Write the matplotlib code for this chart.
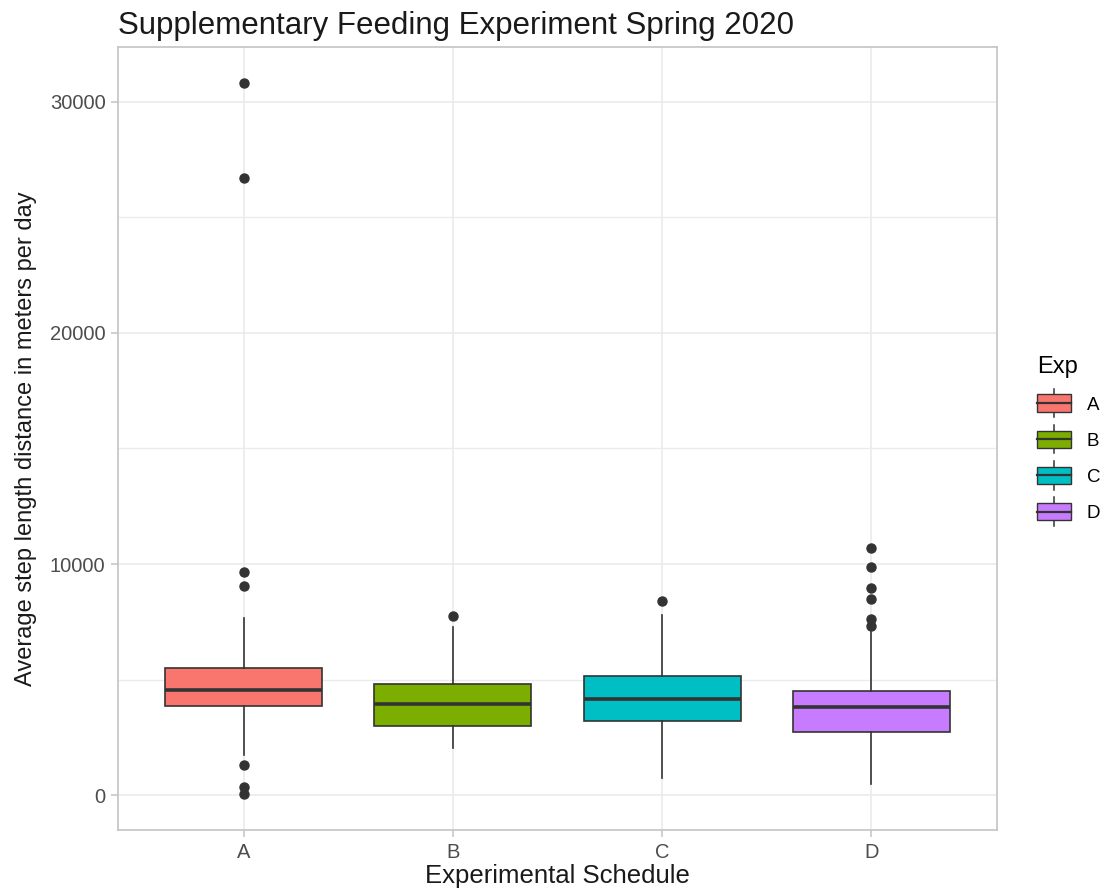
import matplotlib
matplotlib.use("Agg")
import matplotlib.pyplot as plt
from matplotlib.legend_handler import HandlerBase
from matplotlib.patches import Rectangle
from matplotlib.lines import Line2D

plt.rcParams['font.family'] = ['Liberation Sans', 'DejaVu Sans']

# values (metres per day)
groups = ["A", "B", "C", "D"]
colors = ["#F8766D", "#7CAE00", "#00BFC4", "#C77CFF"]
q1 = [3845, 3004, 3221, 2761]
med = [4565, 3958, 4148, 3828]
q3 = [5492, 4798, 5145, 4522]
whislo = [1747, 2037, 766, 477]
whishi = [7672, 7269, 7802, 7052]
fliers = [
    [30820, 26700, 9666, 9046, 1300, 377, 43],
    [7746],
    [8423],
    [10693, 9883, 8973, 8496, 7629, 7340],
]

edge = "#333333"
grid_col = "#ebebeb"

stats = []
for i, g in enumerate(groups):
    stats.append(dict(label=g, q1=q1[i], med=med[i], q3=q3[i],
                      whislo=whislo[i], whishi=whishi[i], fliers=fliers[i]))

fig = plt.figure(figsize=(11.09, 8.9), dpi=100)
ax = fig.add_axes([0.1064, 0.0674, 0.7926, 0.8798])

bp = ax.bxp(stats, positions=range(1, 5), widths=0.75, patch_artist=True,
            showcaps=False,
            boxprops=dict(edgecolor=edge, linewidth=1.2),
            medianprops=dict(color=edge, linewidth=2.6),
            whiskerprops=dict(color=edge, linewidth=1.2),
            flierprops=dict(marker="o", markerfacecolor=edge, markeredgecolor=edge,
                            markersize=6.5, linestyle="none"))
for patch, c in zip(bp["boxes"], colors):
    patch.set_facecolor(c)
    patch.set_zorder(3)
for k in ("medians", "whiskers", "fliers"):
    for art in bp[k]:
        art.set_zorder(4)

ax.set_xlim(0.4, 4.6)
ax.set_ylim(-1496, 32359)
ax.set_yticks([0, 10000, 20000, 30000])
ax.set_yticks([5000, 15000, 25000], minor=True)
ax.set_xticks(range(1, 5))
ax.set_xticklabels(groups)

ax.grid(True, which="major", color=grid_col, linewidth=1.2, zorder=0)
ax.grid(True, which="minor", axis="y", color=grid_col, linewidth=1.0, zorder=0)
ax.set_axisbelow(True)
for s in ax.spines.values():
    s.set_color("#c4c4c4")
    s.set_linewidth(1.2)
ax.tick_params(which="major", colors="#c4c4c4", labelcolor="#4d4d4d",
               labelsize=14.5, length=5, width=1.1, pad=4)
ax.tick_params(which="minor", length=0)

ax.set_xlabel("Experimental Schedule", fontsize=18.5, color="#1a1a1a", labelpad=2)
ax.set_ylabel("Average step length distance in meters per day", fontsize=17,
              color="#1a1a1a", labelpad=9)
ax.set_title("Supplementary Feeding Experiment Spring 2020", fontsize=22.5,
             loc="left", pad=9, color="#1a1a1a")


class BoxKeyHandler(HandlerBase):
    # small boxplot glyph as in ggplot legends
    def create_artists(self, legend, orig_handle, xdescent, ydescent,
                       width, height, fontsize, trans):
        fc = orig_handle.get_facecolor()
        x0, w = -xdescent, width
        y0, h = -ydescent, height
        art = []
        art.append(Line2D([x0 + w / 2] * 2, [y0 - 0.3 * h, y0 + 1.3 * h],
                          color=edge, linewidth=1.1, transform=trans))
        art.append(Rectangle((x0, y0), w, h, facecolor=fc,
                             edgecolor=edge, linewidth=1.0, transform=trans))
        art.append(Line2D([x0, x0 + w], [y0 + 0.5 * h] * 2, color=edge,
                          linewidth=1.6, transform=trans))
        return art


handles = [Rectangle((0, 0), 1, 1, facecolor=c) for c in colors]
leg = fig.legend(handles, groups, handler_map={Rectangle: BoxKeyHandler()},
                 title="Exp", loc="center left", bbox_to_anchor=(0.935, 0.507),
                 frameon=False, fontsize=13.5, title_fontsize=17,
                 handlelength=1.8, handleheight=1.07, labelspacing=0.9,
                 handletextpad=0.85, borderaxespad=0, borderpad=0)
leg._legend_box.align = "left"

fig.savefig("out.png", dpi=100)
